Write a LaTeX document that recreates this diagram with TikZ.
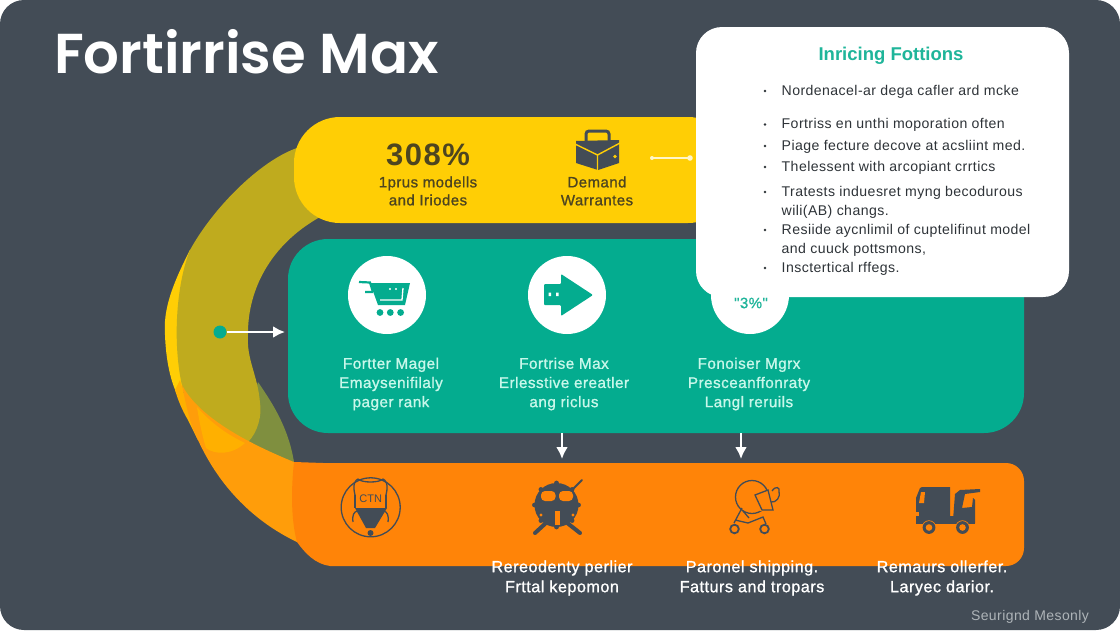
\documentclass[tikz,border=0pt]{standalone}
\usepackage{fontspec}
\setmainfont{Liberation Sans}
\newfontfamily\titlef{Poppins SemiBold}
\newfontfamily\medf[FakeBold=1,LetterSpace=3]{Liberation Sans}
\newfontfamily\itemf[LetterSpace=3]{Liberation Sans}
\newfontfamily\boldf[LetterSpace=5]{Liberation Sans}
\definecolor{slate}{HTML}{434C56}
\definecolor{sunny}{HTML}{FFCE05}
\definecolor{olive}{HTML}{BFAB1E}
\definecolor{moss}{HTML}{7F8F3F}
\definecolor{jade}{HTML}{04AC8F}
\definecolor{tangerine}{HTML}{FF8408}
\definecolor{amber}{HTML}{FF9D0A}
\definecolor{amberhi}{HTML}{FFB000}
\definecolor{inkbrown}{HTML}{4D4520}
\definecolor{mint}{HTML}{C8F7EA}
\definecolor{cardgreen}{HTML}{1FB59A}
\definecolor{cardink}{HTML}{2E3338}
\definecolor{footgrey}{HTML}{AEB4B8}
\definecolor{linkcream}{HTML}{FFF6C8}
\usetikzlibrary{arrows.meta}
\tikzset{
  x=1pt,y=-1pt,
  panel/.style={inner sep=0pt,outer sep=0pt,rounded corners=#1},
  ghost/.style={inner sep=0pt,outer sep=0pt},
  arrowline/.style={draw=white,line width=2.4pt,-{Latex[length=12pt,width=12pt]}},
  ytext/.style={font=\medf\fontsize{15}{18}\selectfont,text=inkbrown,align=center,inner sep=0pt},
  ttext/.style={font=\medf\fontsize{15.3}{19.2}\selectfont,text=mint,align=center,inner sep=0pt},
  otext/.style={font=\medf\fontsize{16.2}{20}\selectfont,text=white,align=center,inner sep=0pt},
  itemtext/.style={font=\itemf\fontsize{14.1}{19}\selectfont,text=cardink,anchor=west,align=left,inner sep=0pt},
  bulletmark/.style={circle,fill=cardink,inner sep=0pt,minimum size=2.8pt},
  iconline/.style={draw=slate,line width=1.3pt},
}
\begin{document}
\begin{tikzpicture}
\useasboundingbox (0,0) rectangle (1120,630);
\fill[white] (0,0) rectangle (1120,630);
\fill[slate,rounded corners=24pt] (0,0) rectangle (1120,630);
% sweeping band: yellow sliver
\fill[sunny] (190,250) .. controls (172,285) and (163,310) .. (165,335)
  .. controls (166,360) and (170,378) .. (176,392)
  -- (200,392) -- (215,260) -- cycle;
% moss overlap
\fill[moss] (258,382) .. controls (270,400) and (288,425) .. (294,462) -- (240,445) -- cycle;
% olive layer
\fill[olive] (297,148) .. controls (262,160) and (215,205) .. (190,250)
  .. controls (176,285) and (172,345) .. (183,390)
  -- (200,430) -- (248,442) .. controls (258,432) and (262,415) .. (260,403)
  .. controls (258,375) and (246,360) .. (248,333)
  .. controls (248,290) and (270,245) .. (320,217) -- cycle;
% amber layer
\fill[amberhi] (180,380) -- (198,440) -- (188,420) .. controls (182,410) and (178,400) .. (175,390) -- cycle;
\fill[amber] (182,385) .. controls (195,410) and (230,436) .. (294,462)
  -- (297,542) .. controls (255,522) and (220,488) .. (198,440)
  .. controls (190,425) and (186,405) .. (182,385) -- cycle;
\fill[amberhi] (197,407) .. controls (212,424) and (228,435) .. (245,443)
  .. controls (232,455) and (215,455) .. (206,448)
  .. controls (202,435) and (199,420) .. (197,407) -- cycle;
% panels
\node[panel=46pt,fill=sunny,minimum width=440pt,minimum height=106pt] (yellowbar) at (514,170) {};
\node[panel=40pt,fill=jade,minimum width=736pt,minimum height=194pt] (tealbox) at (656,336) {};
\fill[tangerine] (323,463) -- (1006,463) .. controls (1016,463) and (1024,471) .. (1024,481)
  -- (1024,548) .. controls (1024,558) and (1016,566) .. (1006,566) -- (330,566)
  .. controls (315,564) and (305,553) .. (297,542)
  .. controls (291,520) and (291,490) .. (294,462) -- cycle;
\node[ghost,minimum width=732pt,minimum height=103pt] (orangebar) at (658,514.5) {};
% title
\node[ghost,font=\titlef\fontsize{56.2}{60}\selectfont,text=white,anchor=west] (title) at (54,52) {Fortirrise Max};
% yellow content
\node[ghost,font=\boldf\bfseries\fontsize{31}{32}\selectfont,text=inkbrown] (pct) at (428,155) {308\%};
\node[ytext] (ylabela) at (428,191) {1prus modells\\and Iriodes};
\node[ytext] (ylabelb) at (597,191) {Demand\\Warrantes};
% case icon
\draw[slate,line width=3pt,rounded corners=3pt] (586,141) -- (586,131) -- (609,131) -- (609,141);
\fill[slate] (576,141) -- (619,140) -- (619,163) -- (598,170) -- (576,163) -- cycle;
\draw[sunny,line width=1.4pt] (575,144) -- (597.5,155) -- (620,143) (597.5,155) -- (597.5,171);
\fill[sunny] (615,156.5) circle (1.8);
% small connector
\coordinate (linkstart) at (652,158);
\coordinate (linkend) at (690,158);
\draw[line width=2.2pt,draw=linkcream,line cap=round] (linkstart) -- (linkend);
\fill[linkcream] (linkstart) circle (2);
\fill[linkcream] (linkend) circle (2.8);
% arrow into teal box
\node[circle,fill=jade,inner sep=0pt,minimum size=13pt] (srcdot) at (220,332) {};
\draw[arrowline,shorten >=3pt] (srcdot) -- (srcdot -| tealbox.west);
% teal circles
\node[circle,fill=white,inner sep=0pt,minimum size=78pt] (circa) at (387,295) {};
\node[circle,fill=white,inner sep=0pt,minimum size=78pt] (circb) at (567,295) {};
\node[circle,fill=white,inner sep=0pt,minimum size=78pt] (circc) at (750,295) {};
% cart
\draw[jade,line width=2.2pt] (359,282) -- (370,282.5) -- (373,292) (365,292) -- (373,292);
\fill[jade] (370,283) -- (410,283) -- (405,305) -- (378,305) -- cycle;
\draw[white,line width=1.3pt] (380,300) -- (402,300) -- (403,288);
\fill[white] (390,289) circle (1.1) (396,289) circle (1.1);
\fill[jade] (380,312.5) circle (3.4) (390.3,312.5) circle (3.4) (400.6,312.5) circle (3.4);
% arrow icon
\fill[jade,rounded corners=1pt] (544,284) -- (561,284) -- (561,274) -- (593,295) -- (561,316) -- (561,305) -- (544,305) -- cycle;
\fill[white] (548.5,292.5) rectangle (551,296) (556,292.5) rectangle (558.5,296);
% white card
\node[panel=26pt,fill=white,minimum width=373pt,minimum height=270pt] (card) at (882.5,162) {};
\node[ghost,font=\bfseries\fontsize{18.5}{20}\selectfont,text=cardgreen] (cardtitle) at (891,55.5) {Inricing Fottions};
\node[itemtext] (ia) at (781.5,91.5) {Nordenacel-ar dega cafler ard mcke};
\node[itemtext] (ib) at (781.5,125) {Fortriss en unthi moporation often};
\node[itemtext] (ic) at (781.5,146.5) {Piage fecture decove at acsliint med.};
\node[itemtext] (id) at (781.5,167.5) {Thelessent with arcopiant crrtics};
\node[itemtext] (ie) at (781.5,202) {Tratests induesret myng becodurous\\wili(AB) changs.};
\node[itemtext] (if) at (781.5,240) {Resiide aycnlimil of cuptelifinut model\\and cuuck pottsmons,};
\node[itemtext] (ig) at (781.5,268.5) {Insctertical rffegs.};
\foreach \n/\y in {ba/91,bb/124.5,bc/146,bd/167,be/192,bf/230,bg/268}{
  \node[bulletmark] (\n) at (765,\y) {};
}
\node[ghost,font=\medf\fontsize{15}{16}\selectfont,text=cardgreen] (pctsmall) at (751,303) {"3\%"};
% teal labels
\node[ttext] (ta) at (391,384) {Fortter Magel\\Emaysenifilaly\\pager rank};
\node[ttext] (tb) at (564,384) {Fortrise Max\\Erlesstive ereatler\\ang riclus};
\node[ttext] (tc) at (749,384) {Fonoiser Mgrx\\Presceanffonraty\\Langl reruils};
% down arrows
\coordinate (downa) at (562,448);
\coordinate (downb) at (741,448);
\draw[arrowline,shorten >=4pt] (downa |- tealbox.south) -- (downa |- orangebar.north);
\draw[arrowline,shorten >=4pt] (downb |- tealbox.south) -- (downb |- orangebar.north);
% icon 1
\draw[iconline] (370.7,507.3) circle (29.5);
\draw[iconline] (355,495) .. controls (352,483) and (356,480) .. (358,479)
  (386,495) .. controls (389,483) and (385,480) .. (383,479);
\draw[iconline] (358,479) .. controls (362,483) and (379,483) .. (383,479);
\draw[iconline] (355,495) -- (355,508) (386,495) -- (386,508);
\fill[slate] (355,508) -- (387,508) -- (375,528) -- (366,528) -- cycle;
\fill[slate] (370.5,533) circle (3);
\draw[iconline] (353,522) .. controls (352,515) and (354,512) .. (357,511)
  (388,522) .. controls (389,515) and (387,512) .. (384,511);
\node[ghost,font=\fontsize{11}{12}\selectfont,text=slate] (ctn) at (370.7,499) {CTN};
% icon 2
\fill[slate] (556.5,505) circle (22);
\foreach \a in {0,45,...,315}{\fill[slate] (556.5,505) ++(\a:22) circle (2.4);}
\fill[tangerine,rounded corners=4pt] (541,501) -- (541,491) -- (555.5,491) -- (555.5,501) -- cycle;
\fill[tangerine,rounded corners=4pt] (559,501) -- (559,491) -- (573,491) -- (573,501) -- cycle;
\fill[tangerine] (554.5,511) rectangle (559.5,525);
\fill[tangerine] (541,515) circle (1.6) (573,515) circle (1.6);
\draw[slate,line width=4pt,line cap=round] (547,522) -- (535,533) (566,522) -- (580,533);
\draw[slate,line width=2pt,line cap=round] (573,489) -- (582,480);
% icon 3
\draw[iconline] (752,497) circle (16.5);
\fill[tangerine] (755,495) -- (768,490) -- (773,510) -- (760,511) -- cycle;
\draw[iconline] (755,495) -- (768,490) -- (773,510) -- (762,510) -- cycle;
\draw[iconline] (772,491) .. controls (776,485) and (780,488) .. (779,491) .. controls (781,497) and (776,503) .. (771,502);
\draw[iconline] (742,508) -- (734,523) (735,520) -- (748,523) -- (763,517) -- (766,524) (743,511) -- (749,518);
\draw[line width=1.8pt,slate] (734.5,529) circle (4.3) (764.5,529) circle (4.3);
% icon 4
\fill[slate] (920,488) -- (922,487) -- (950,487) -- (950,520) -- (916,520) -- (916,498) -- cycle;
\fill[tangerine] (921,492) -- (925,492) -- (924,503) -- (919,503) -- cycle;
\fill[tangerine] (915,512) rectangle (919,516);
\fill[slate] (953,520) -- (955,494) -- (960,490) -- (980,489) -- (980,492) -- (965,494) -- (962,508) -- (972,507) -- (973,498) -- (975,500) -- (975,523) -- (953,523) -- cycle;
\fill[slate] (916,516) rectangle (975,524);
\fill[tangerine] (929,527.5) circle (7.2) (962.5,527.5) circle (7.2);
\fill[slate] (929,527.5) circle (6.4) (962.5,527.5) circle (6.4);
\fill[tangerine] (929,527.5) circle (3.3) (962.5,527.5) circle (3.3);
% orange labels
\node[otext] (oa) at (562,578) {Rereodenty perlier\\Frttal kepomon};
\node[otext] (ob) at (752,578) {Paronel shipping.\\Fatturs and tropars};
\node[otext] (oc) at (942,578) {Remaurs ollerfer.\\Laryec darior.};
\node[ghost,font=\itemf\fontsize{14}{15}\selectfont,text=footgrey] (foot) at (1030,617) {Seurignd Mesonly};
\end{tikzpicture}
\end{document}
